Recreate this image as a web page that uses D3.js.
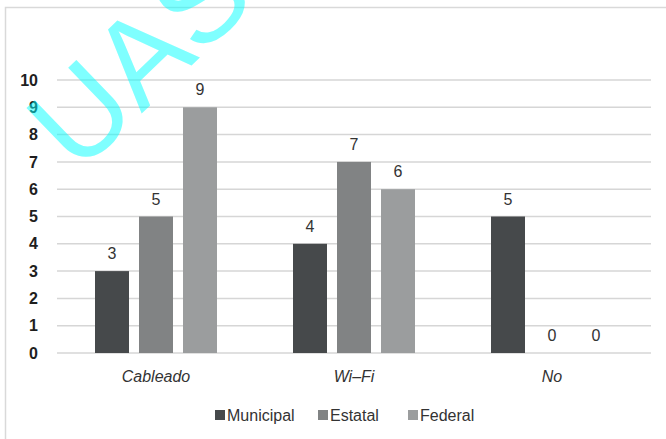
<!DOCTYPE html>
<html>
<head>
<meta charset="utf-8">
<script src="https://cdn.jsdelivr.net/npm/d3@7/dist/d3.min.js"></script>
<style>
  html, body { margin: 0; padding: 0; background: #fff; }
  svg { display: block; font-family: "Liberation Sans", Arial, sans-serif; }
</style>
</head>
<body>
<svg id="chart" width="666" height="439"></svg>
<script>
// Connection type by school level
const categories = ["Cableado", "Wi\u2013Fi", "No"];
const series = ["Municipal", "Estatal", "Federal"];
const municipal = [3, 4, 5];
const estatal = [5, 7, 0];
const federal = [9, 6, 0];
const yTicks = [0, 1, 2, 3, 4, 5, 6, 7, 8, 9, 10];
const colors = ["#46494b", "#818384", "#9b9d9e"];

const values = [municipal, estatal, federal];
const svg = d3.select("#chart");

// outer frame
svg.append("rect")
  .attr("x", 5.5).attr("y", 7.5).attr("width", 720).attr("height", 500)
  .attr("fill", "none").attr("stroke", "#d9d9d9").attr("stroke-width", 1.5);

const x = d3.scaleBand().domain(categories).range([57, 651]).paddingInner(0).paddingOuter(0);
const half = x.bandwidth() / 2;
const xs = d3.scaleBand().domain(series)
  .range([half - 61, half + 61]).paddingInner(10 / 44).paddingOuter(0);
const y = d3.scaleLinear().domain([0, 10]).range([353, 80]);

// gridlines
svg.append("g").selectAll("line").data(yTicks).join("line")
  .attr("x1", 57).attr("x2", 651)
  .attr("y1", d => y(d)).attr("y2", d => y(d))
  .attr("stroke", "#d6d6d6").attr("stroke-width", 1.5);

// y axis labels
const yAxis = d3.axisLeft(y).tickValues(yTicks).tickSize(0).tickPadding(0).tickFormat(d3.format("d"));
const ya = svg.append("g").attr("transform", "translate(38,0)").call(yAxis);
ya.select(".domain").remove();
ya.selectAll("text")
  .attr("font-family", "Liberation Sans, Arial, sans-serif")
  .attr("font-size", 16).attr("font-weight", "bold").attr("fill", "#1e1e1e");

// bars
const groups = svg.append("g").selectAll("g").data(categories).join("g")
  .attr("transform", d => `translate(${x(d)},0)`);

series.forEach((s, si) => {
  groups.append("rect")
    .attr("x", xs(s))
    .attr("width", xs.bandwidth())
    .attr("y", (d, ci) => y(values[si][ci]))
    .attr("height", (d, ci) => y(0) - y(values[si][ci]))
    .attr("fill", colors[si]);
  groups.append("text")
    .attr("x", xs(s) + xs.bandwidth() / 2)
    .attr("y", (d, ci) => y(values[si][ci]) - 12)
    .attr("text-anchor", "middle")
    .attr("font-size", 16).attr("fill", "#333")
    .text((d, ci) => values[si][ci]);
});

// category axis
const xAxis = d3.axisBottom(x).tickSize(0).tickPadding(0);
const xa = svg.append("g").attr("transform", "translate(0,371)").call(xAxis);
xa.select(".domain").remove();
xa.selectAll("text")
  .attr("font-family", "Liberation Sans, Arial, sans-serif")
  .attr("font-size", 16).attr("font-style", "italic").attr("fill", "#333");

// legend
const legendX = [215, 318, 408];
const legend = svg.append("g").selectAll("g").data(series).join("g")
  .attr("transform", (d, i) => `translate(${legendX[i]},410)`);
legend.append("rect").attr("width", 10).attr("height", 10)
  .attr("fill", (d, i) => colors[i]);
legend.append("text").attr("x", 12).attr("y", 11)
  .attr("font-size", 16).attr("fill", "#333").text(d => d);

// watermark
svg.append("text")
  .attr("transform", "translate(78,175) rotate(-44)")
  .attr("font-family", "Liberation Sans, Arial, sans-serif")
  .attr("font-size", 122)
  .attr("fill", "#00ffff").attr("fill-opacity", 0.5)
  .text("UAS");
</script>
</body>
</html>
